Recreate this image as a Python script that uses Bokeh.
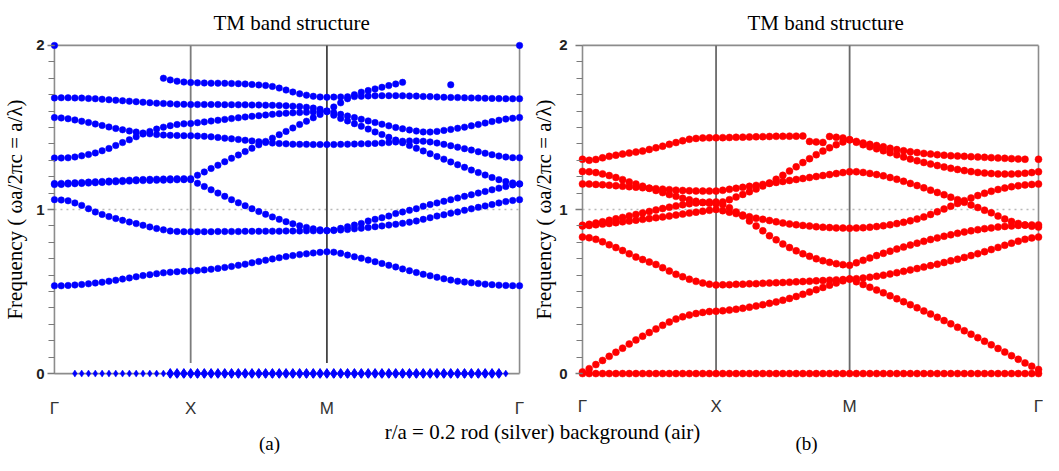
import numpy as np
from bokeh.plotting import figure
from bokeh.layouts import column, row
from bokeh.models import ColumnDataSource, FixedTicker, Label, Range1d
from bokeh.embed import file_html
from bokeh.resources import INLINE

# ---------------- k-path (Γ - X - M - Γ) ----------------
SQ2 = np.sqrt(2.0)
k_points = [0.0, 1.0, 2.0, 2.0 + SQ2]
k_labels = ["Γ", "X", "M", "Γ"]
N_GX, N_XM, N_MG = 20, 20, 28
K = np.concatenate([np.linspace(0, 1, N_GX + 1),
                    1 + np.arange(1, N_XM + 1) / N_XM,
                    2 + np.arange(1, N_MG + 1) * SQ2 / N_MG])
NP = len(K)
_ = None

y_major = [0, 1, 2]
y_minor = [round(0.1 * i, 1) for i in range(21)]
y_labels = {0: "0", 1: "1", 2: "2"}

# ---------------- (a) blue bands: value at each k sample (GX | XM | MG) ----------------
blue_1 = ([0.535,0.535,0.537,0.540,0.543,0.547,0.552,0.557,0.563,0.569,0.576,0.583,0.590,0.597,0.603,0.609,0.614,0.618,0.621,0.623,0.625]
          + [0.628,0.632,0.636,0.641,0.647,0.653,0.660,0.667,0.675,0.683,0.691,0.699,0.706,0.713,0.719,0.725,0.730,0.735,0.739,0.742]
          + [0.740,0.733,0.722,0.712,0.703,0.692,0.682,0.671,0.660,0.650,0.638,0.627,0.616,0.605,0.596,0.587,0.578,0.570,0.563,0.558,0.553,0.549,0.545,0.542,0.539,0.537,0.536,0.535])
blue_2 = ([1.060,1.058,1.053,1.040,1.025,1.005,0.985,0.970,0.957,0.945,0.934,0.924,0.914,0.904,0.894,0.884,0.876,0.869,0.866,0.865,0.865]
          + [0.865,0.865,0.865,0.866,0.866,0.866,0.866,0.867,0.867,0.867,0.868,0.868,0.868,0.869,0.869,0.869,0.870,0.870,0.870,0.870]
          + [0.872,0.875,0.878,0.882,0.886,0.890,0.895,0.900,0.905,0.910,0.916,0.923,0.930,0.940,0.950,0.960,0.968,0.977,0.985,0.995,1.004,1.013,1.022,1.030,1.040,1.048,1.055,1.060])
blue_3 = ([1.152,1.153,1.155,1.157,1.159,1.161,1.163,1.165,1.167,1.169,1.171,1.173,1.175,1.176,1.177,1.178,1.179,1.180,1.181,1.182,1.182]
          + [1.160,1.140,1.120,1.100,1.080,1.060,1.041,1.023,1.005,0.988,0.971,0.955,0.940,0.926,0.913,0.901,0.891,0.882,0.876,0.872]
          + [0.875,0.885,0.895,0.905,0.915,0.930,0.940,0.950,0.960,0.975,0.985,0.995,1.005,1.020,1.030,1.040,1.050,1.060,1.070,1.080,1.090,1.100,1.110,1.120,1.130,1.140,1.150,1.156])
blue_4 = ([1.158,1.159,1.161,1.163,1.165,1.167,1.169,1.171,1.173,1.175,1.177,1.179,1.181,1.183,1.184,1.185,1.186,1.187,1.188,1.188,1.188]
          + [1.209,1.229,1.250,1.270,1.291,1.312,1.332,1.353,1.373,1.394,1.415,1.435,1.456,1.476,1.497,1.518,1.538,1.559,1.579,1.600]
          + [1.575,1.555,1.540,1.523,1.507,1.490,1.473,1.457,1.440,1.423,1.407,1.390,1.373,1.357,1.340,1.323,1.307,1.290,1.273,1.257,1.240,1.225,1.210,1.195,1.182,1.170,1.162,1.156])
blue_5 = ([1.314,1.314,1.315,1.320,1.327,1.335,1.345,1.358,1.372,1.390,1.408,1.425,1.443,1.460,1.476,1.490,1.502,1.511,1.518,1.522,1.524]
          + [1.529,1.534,1.539,1.544,1.549,1.554,1.559,1.564,1.568,1.572,1.576,1.580,1.584,1.587,1.589,1.591,1.593,1.594,1.595,1.596]
          + [1.590,1.580,1.570,1.560,1.550,1.540,1.530,1.520,1.510,1.500,1.492,1.485,1.478,1.473,1.472,1.476,1.482,1.488,1.495,1.502,1.510,1.518,1.527,1.536,1.544,1.551,1.556,1.560])
blue_6 = ([1.560,1.558,1.553,1.546,1.538,1.530,1.521,1.512,1.503,1.494,1.486,1.479,1.472,1.466,1.461,1.457,1.454,1.452,1.451,1.450,1.450]
          + [1.448,1.446,1.443,1.439,1.435,1.431,1.427,1.422,1.418,1.413,1.409,1.405,1.402,1.400,1.398,1.397,1.397,1.396,1.396,1.396]
          + [1.396,1.397,1.398,1.399,1.400,1.401,1.403,1.405,1.408,1.412,1.416,1.418,1.418,1.416,1.412,1.405,1.397,1.389,1.380,1.371,1.362,1.352,1.343,1.334,1.326,1.320,1.316,1.315])
blue_7 = ([1.680,1.681,1.681,1.680,1.679,1.677,1.675,1.672,1.669,1.666,1.663,1.660,1.657,1.654,1.651,1.648,1.646,1.644,1.642,1.641,1.640]
          + [1.640,1.640,1.640,1.640,1.639,1.639,1.638,1.638,1.637,1.637,1.636,1.635,1.634,1.632,1.630,1.627,1.623,1.618,1.611,1.600]
          + [1.625,1.650,1.675,1.700,1.715,1.725,1.735,1.745,1.755,1.765,1.775,_,_,_,_,_,_,_,_,_,_,_,_,_,_,_,_,_])
blue_8 = ([_,_,_,_,_,_,_,_,_,_,_,_,_,_,_,_,1.800,1.790,1.782,1.777,1.774]
          + [1.772,1.771,1.770,1.770,1.769,1.768,1.767,1.765,1.762,1.759,1.756,1.750,1.740,1.728,1.716,1.705,1.697,1.690,1.686,1.684]
          + [1.685,1.686,1.687,1.688,1.690,1.692,1.693,1.694,1.694,1.694,1.693,1.692,1.691,1.689,1.688,1.686,1.684,1.683,1.682,1.681,1.680,1.679,1.678,1.677,1.676,1.675,1.675,1.675])
blue_extra = ([2.0] + [_] * 20
              + [_] * 20
              + [_] * 17 + [1.760] + [_] * 9 + [2.0])
blue_zero_small = ([_] * 3 + [0.0] * 14 + [_] * 4
                   + [_] * 20
                   + [_] * 25 + [0.0] + [_] * 2)
blue_zero = ([_] * 17 + [0.0] * 4
             + [0.0] * 20
             + [0.0] * 25 + [_] * 3)
blue_bands = [blue_1, blue_2, blue_3, blue_4, blue_5, blue_6, blue_7, blue_8, blue_extra]

# ---------------- (b) red bands ----------------
red_a = ([1.306,1.300,1.305,1.315,1.324,1.331,1.338,1.344,1.350,1.356,1.366,1.376,1.386,1.397,1.408,1.419,1.428,1.433,1.436,1.437,1.437]
         + [1.438,1.439,1.440,1.441,1.442,1.443,1.444,1.445,1.446,1.446,1.447,1.447,1.448,1.415,1.412,1.409,1.445,1.440,1.436,1.425]
         + [1.415,1.405,1.397,1.390,1.382,1.373,1.365,1.358,1.352,1.347,1.342,1.338,1.334,1.331,1.328,1.326,1.324,1.322,1.320,1.318,1.316,1.314,1.312,1.310,1.308,1.306,_,1.306])
red_b = ([1.232,1.230,1.225,1.217,1.207,1.195,1.182,1.168,1.155,1.142,1.129,1.116,1.103,1.091,1.080,1.069,1.059,1.050,1.043,1.038,1.035]
         + [1.046,1.060,1.076,1.092,1.108,1.125,1.143,1.162,1.184,1.208,1.234,1.260,1.286,1.310,1.334,1.356,1.376,1.395,1.412,1.425]
         + [1.410,1.395,1.382,1.370,1.358,1.346,1.333,1.320,1.308,1.297,1.287,1.277,1.268,1.259,1.251,1.244,1.237,1.231,1.226,1.222,1.219,1.217,1.216,1.216,1.218,1.221,1.225,1.230])
red_c = ([1.156,1.155,1.153,1.151,1.148,1.145,1.142,1.139,1.136,1.133,1.130,1.127,1.124,1.121,1.118,1.116,1.114,1.113,1.112,1.112,1.112]
         + [1.117,1.123,1.129,1.135,1.141,1.147,1.153,1.159,1.165,1.171,1.177,1.183,1.189,1.195,1.201,1.207,1.213,1.219,1.225,1.230]
         + [1.230,1.226,1.220,1.213,1.205,1.195,1.184,1.172,1.159,1.146,1.132,1.118,1.104,1.090,1.075,1.060,1.044,1.028,1.012,0.996,0.980,0.960,0.942,0.927,0.915,0.905,0.898,0.893])
red_d = ([0.904,0.910,0.917,0.925,0.934,0.943,0.952,0.961,0.970,0.979,0.988,0.997,1.006,1.014,1.022,1.029,1.035,1.040,1.043,1.045,1.046]
         + [1.030,1.010,0.985,0.960,0.930,0.900,0.870,0.840,0.815,0.790,0.768,0.748,0.730,0.715,0.700,0.688,0.678,0.670,0.664,0.660]
         + [0.675,0.690,0.705,0.719,0.733,0.746,0.759,0.771,0.783,0.795,0.806,0.817,0.827,0.837,0.846,0.855,0.863,0.870,0.877,0.883,0.888,0.893,0.897,0.900,0.903,0.905,0.906,0.906])
red_e = ([0.900,0.903,0.907,0.911,0.915,0.920,0.925,0.930,0.935,0.940,0.945,0.950,0.955,0.960,0.966,0.972,0.978,0.984,0.990,0.995,1.000]
         + [0.993,0.984,0.975,0.966,0.956,0.947,0.940,0.933,0.925,0.918,0.912,0.907,0.903,0.899,0.895,0.892,0.890,0.888,0.887,0.886]
         + [0.887,0.889,0.892,0.896,0.901,0.907,0.914,0.922,0.931,0.942,0.955,0.970,0.986,1.003,1.020,1.037,1.054,1.070,1.085,1.099,1.111,1.122,1.131,1.139,1.145,1.150,1.153,1.155])
red_f = ([0.832,0.828,0.818,0.803,0.785,0.768,0.750,0.730,0.710,0.695,0.680,0.665,0.645,0.625,0.605,0.590,0.575,0.562,0.552,0.545,0.540]
         + [0.541,0.542,0.544,0.545,0.547,0.548,0.550,0.552,0.554,0.555,0.557,0.559,0.561,0.563,0.565,0.567,0.569,0.571,0.573,0.576]
         + [0.578,0.582,0.587,0.593,0.600,0.607,0.615,0.623,0.632,0.640,0.649,0.658,0.667,0.677,0.687,0.697,0.708,0.719,0.731,0.743,0.756,0.769,0.782,0.795,0.807,0.818,0.827,0.832])
red_g = ([0.010,0.030,0.055,0.080,0.105,0.130,0.155,0.180,0.205,0.228,0.250,0.272,0.294,0.314,0.332,0.346,0.357,0.366,0.373,0.378,0.380]
         + [0.383,0.387,0.392,0.398,0.405,0.412,0.420,0.428,0.437,0.447,0.458,0.470,0.483,0.497,0.511,0.525,0.539,0.552,0.565,0.576]
         + [0.560,0.543,0.526,0.509,0.492,0.474,0.456,0.438,0.420,0.401,0.382,0.363,0.343,0.323,0.303,0.282,0.261,0.240,0.219,0.197,0.175,0.153,0.131,0.109,0.087,0.065,0.045,0.025])
red_zero = [0.0] * 21 + [0.0] * 20 + [0.0] * 28
red_bands = [red_a, red_b, red_c, red_d, red_e, red_f, red_g, red_zero]

TITLE = "TM band structure"
YLABEL = "Frequency ( ωa/2πc = a/λ)"
CAPTION = "r/a = 0.2 rod (silver) background (air)"

BLUE = "#0000ff"
RED = "#ff0000"
SERIF = "Liberation Serif"
SANS = "Liberation Sans"
ROW_H = 420


def source(bands):
    xs, ys = [], []
    for b in bands:
        assert len(b) == NP, len(b)
        v = np.array(b, dtype=float)
        m = ~np.isnan(v)
        xs.append(K[m])
        ys.append(v[m])
    return ColumnDataSource(dict(k=np.concatenate(xs), f=np.concatenate(ys)))


def make_panel(width, px_unit, border_left, border_right, border_top, border_bottom,
               title_offset, title_standoff, tick_standoff, label_standoff, xlab_standoff,
               sym_y0, sym_color_x, sym_color_m):
    pad_x = 5.0 / px_unit
    pad_y = 0.03
    kend = k_points[-1]
    p = figure(width=width, height=ROW_H, output_backend="svg", toolbar_location=None,
               x_range=Range1d(-pad_x, kend + pad_x), y_range=Range1d(-pad_y, 2 + pad_y),
               min_border_left=border_left, min_border_right=border_right,
               min_border_top=border_top, min_border_bottom=border_bottom,
               title=TITLE)
    p.title.align = "left"
    p.title.offset = title_offset
    p.title.standoff = title_standoff
    p.title.text_font = SERIF
    p.title.text_font_size = "21px"
    p.title.text_font_style = "normal"
    p.title.text_color = "#000000"
    p.outline_line_color = None
    p.xgrid.visible = False
    p.ygrid.visible = False
    p.background_fill_color = "white"
    p.border_fill_color = "white"

    xa = p.xaxis[0]
    xa.ticker = FixedTicker(ticks=k_points)
    xa.major_label_overrides = {k: lab for k, lab in zip(k_points, k_labels)}
    xa.axis_line_color = None
    xa.major_tick_line_color = None
    xa.minor_tick_line_color = None
    xa.major_tick_out = 0
    xa.major_tick_in = 0
    xa.minor_tick_out = 0
    xa.minor_tick_in = 0
    xa.major_label_standoff = xlab_standoff
    xa.major_label_text_font = SANS
    xa.major_label_text_font_size = "17px"
    xa.major_label_text_color = "#333333"

    ya = p.yaxis[0]
    ya.ticker = FixedTicker(ticks=y_major, minor_ticks=y_minor)
    ya.major_label_overrides = y_labels
    ya.axis_line_color = None
    ya.major_tick_in = 5
    ya.major_tick_out = 2
    ya.minor_tick_in = 5
    ya.minor_tick_out = 1
    ya.major_tick_line_color = "#7a7a7a"
    ya.minor_tick_line_color = "#7a7a7a"
    ya.major_tick_line_width = 1.3
    ya.minor_tick_line_width = 1.1
    ya.major_label_standoff = tick_standoff
    ya.major_label_text_font = SANS
    ya.major_label_text_font_style = "bold"
    ya.major_label_text_font_size = "15px"
    ya.major_label_text_color = "#222222"
    ya.axis_label = YLABEL
    ya.axis_label_text_font = SERIF
    ya.axis_label_text_font_size = "21px"
    ya.axis_label_text_font_style = "normal"
    ya.axis_label_text_color = "#000000"
    ya.axis_label_standoff = label_standoff

    # frame box from the limits of the path and of the frequency axis
    k0 = k_points[0]
    box = ColumnDataSource(dict(x0=[k0, k0, k0, kend], y0=[y_major[0], y_major[0], y_major[-1], y_major[0]],
                                x1=[kend, k0, kend, kend], y1=[y_major[0], y_major[-1], y_major[-1], y_major[-1]]))
    p.segment("x0", "y0", "x1", "y1", source=box, line_color="#8c8c8c", line_width=1.6)
    # dotted guide at frequency 1
    p.segment(x0=[k0], y0=[y_major[1]], x1=[kend], y1=[y_major[1]],
              line_color="#b9b9b9", line_width=1.6, line_dash="2 4")
    # symmetry-point verticals at X and M
    sym = ColumnDataSource(dict(x=k_points[1:3], y0=[sym_y0] * 2, y1=[y_major[-1]] * 2,
                                c=[sym_color_x, sym_color_m]))
    p.segment("x", "y0", "x", "y1", source=sym, line_color="c", line_width=1.8)
    return p


# ---------- panel (a) ----------
p1 = make_panel(width=527, px_unit=137.66, border_left=44, border_right=3, border_top=37,
                border_bottom=40, title_offset=164, title_standoff=11, tick_standoff=3,
                label_standoff=6, xlab_standoff=20, sym_y0=0.065,
                sym_color_x="#7c7c7c", sym_color_m="#444444")
p1.scatter("k", "f", source=source(blue_bands), marker="circle", size=6.5,
           fill_color=BLUE, line_color=BLUE, line_width=0.5)
p1.scatter("k", "f", source=source([blue_zero_small]), marker="diamond", size=7,
           fill_color=BLUE, line_color=BLUE, line_width=0.5)
p1.scatter("k", "f", source=source([blue_zero]), marker="diamond", size=10,
           fill_color=BLUE, line_color=BLUE, line_width=1)

# ---------- panel (b) ----------
p2 = make_panel(width=516, px_unit=133.56, border_left=50, border_right=0, border_top=40,
                border_bottom=37, title_offset=170, title_standoff=12, tick_standoff=8,
                label_standoff=0, xlab_standoff=18, sym_y0=0.0,
                sym_color_x="#6a6a6a", sym_color_m="#6a6a6a")
p2.scatter("k", "f", source=source(red_bands), marker="circle", size=7,
           fill_color=RED, line_color=RED, line_width=0.5)

# ---------- caption strip ----------
CAP_H = 35
p3 = figure(width=1043, height=CAP_H, output_backend="svg", toolbar_location=None,
            x_range=Range1d(0, 1043), y_range=Range1d(0, CAP_H),
            x_axis_type=None, y_axis_type=None, min_border=0)
p3.outline_line_color = None
p3.xgrid.visible = False
p3.ygrid.visible = False
for txt, x, y, fs in [(CAPTION, 542, 23.5, "21px"), ("(a)", 269, 12, "19px"), ("(b)", 806, 12, "19px")]:
    p3.add_layout(Label(x=x, y=y, text=txt, text_align="center", text_baseline="middle",
                        text_font=SERIF, text_font_size=fs, text_color="#000000"))

layout = column(row(p1, p2), p3)
open("out.html", "w").write(file_html(layout, INLINE))
